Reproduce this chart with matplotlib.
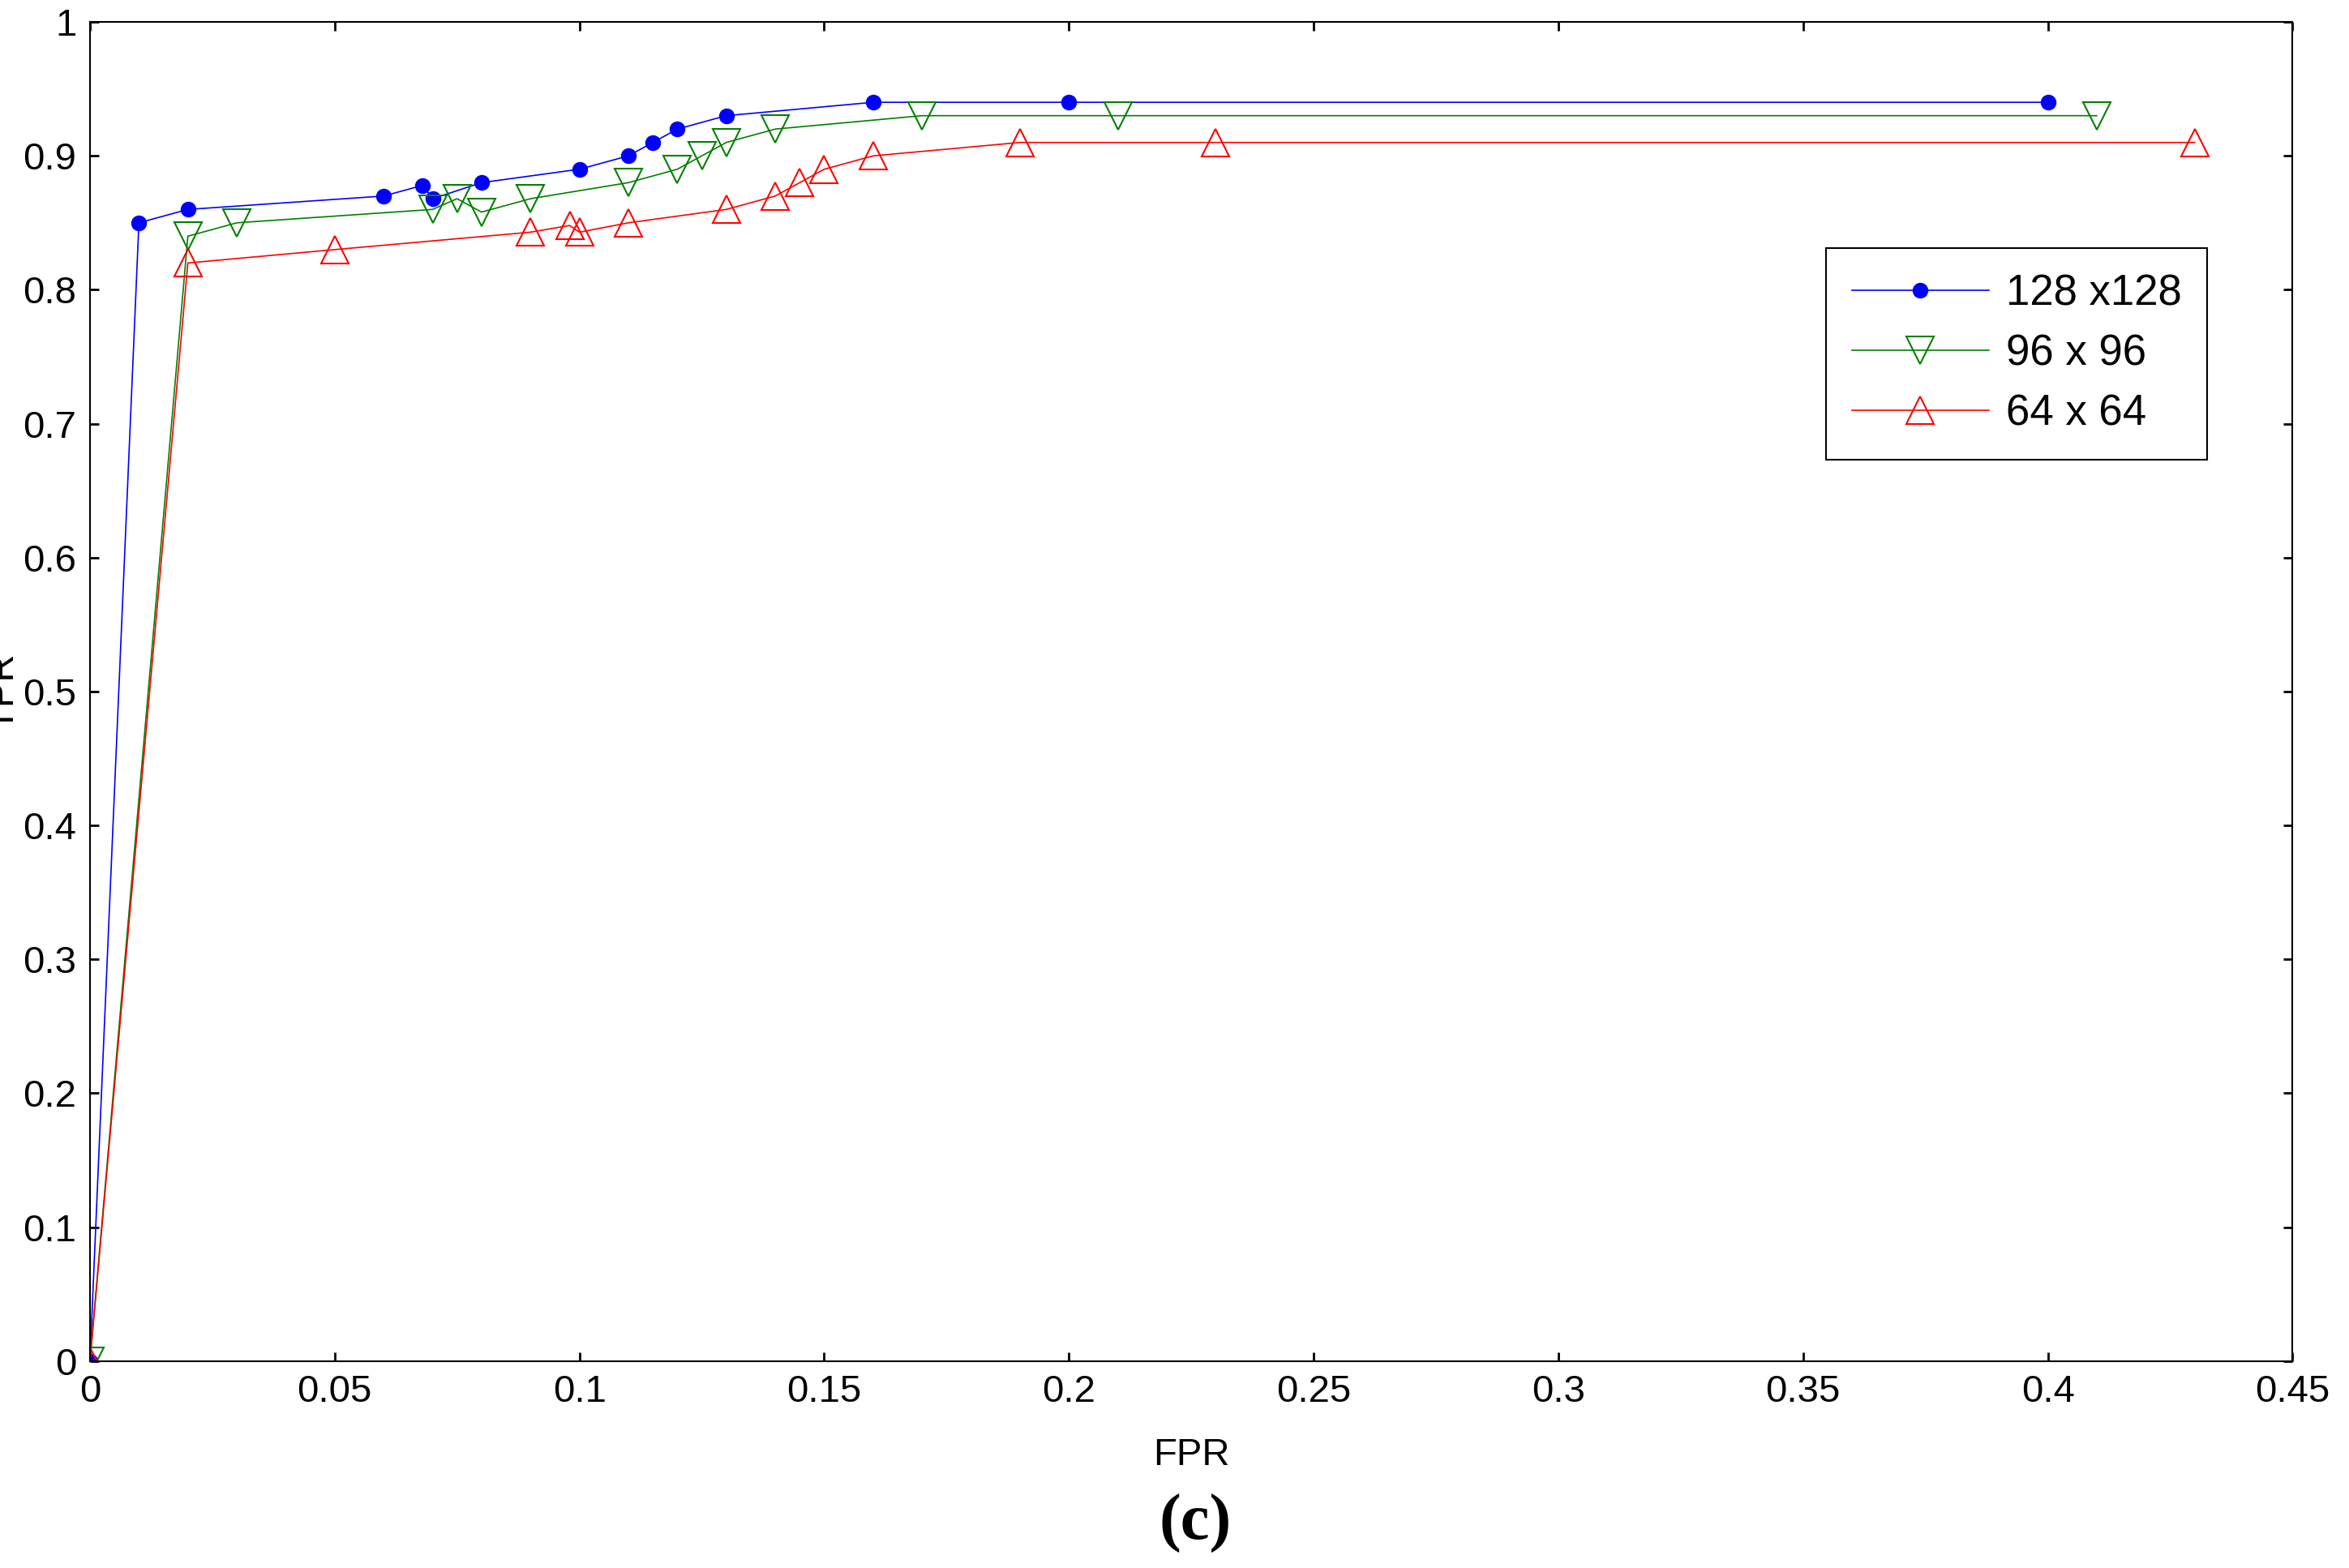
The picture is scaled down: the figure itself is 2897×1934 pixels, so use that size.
import matplotlib.pyplot as plt

fpr_128 = [0, 0.01, 0.02, 0.06, 0.068, 0.07, 0.08, 0.1, 0.11, 0.115, 0.12, 0.13, 0.16, 0.2, 0.4]
tpr_128 = [0, 0.85, 0.86, 0.87, 0.878, 0.868, 0.88, 0.89, 0.90, 0.91, 0.92, 0.93, 0.94, 0.94, 0.94]
fpr_96 = [0, 0.02, 0.03, 0.07, 0.075, 0.08, 0.09, 0.11, 0.12, 0.125, 0.13, 0.14, 0.17, 0.21, 0.41]
tpr_96 = [0, 0.84, 0.85, 0.86, 0.868, 0.858, 0.868, 0.88, 0.89, 0.90, 0.91, 0.92, 0.93, 0.93, 0.93]
fpr_64 = [0, 0.02, 0.05, 0.09, 0.098, 0.1, 0.11, 0.13, 0.14, 0.145, 0.15, 0.16, 0.19, 0.23, 0.43]
tpr_64 = [0, 0.82, 0.83, 0.843, 0.848, 0.843, 0.85, 0.86, 0.87, 0.88, 0.89, 0.90, 0.91, 0.91, 0.91]
xticks = [0, 0.05, 0.1, 0.15, 0.2, 0.25, 0.3, 0.35, 0.4, 0.45]
yticks = [0, 0.1, 0.2, 0.3, 0.4, 0.5, 0.6, 0.7, 0.8, 0.9, 1]

plt.rcParams['font.family'] = ['Liberation Sans', 'DejaVu Sans']
fig = plt.figure(figsize=(28.97, 19.34), dpi=100)
ax = fig.add_axes([0.0383, 0.132, 0.9377, 0.854])

ax.plot(fpr_128, tpr_128, color='blue', lw=1.2, marker='o', ms=13, mfc='blue', mec='blue', label='128 x128')
ax.plot(fpr_96, tpr_96, color='green', lw=1.2, marker='v', ms=24, mfc='none', mec='green', mew=1.5, label='96 x 96')
ax.plot(fpr_64, tpr_64, color='red', lw=1.2, marker='^', ms=24, mfc='none', mec='red', mew=1.5, label='64 x 64')

ax.set_xlim(0, 0.45)
ax.set_ylim(0, 1)
ax.set_xticks(xticks)
ax.set_xticklabels([f'{t:g}' for t in xticks])
ax.set_yticks(yticks)
ax.set_yticklabels([f'{t:g}' for t in yticks])
ax.tick_params(direction='in', top=True, right=True, length=8, width=2, labelsize=34, pad=12)
for s in ax.spines.values():
    s.set_linewidth(1.5)
ax.set_xlabel('FPR', fontsize=34, labelpad=24)
ax.set_ylabel('TPR', fontsize=34, labelpad=2)

leg = ax.legend(loc='upper right', bbox_to_anchor=(0.971, 0.847), fontsize=38, fancybox=False,
                edgecolor='black', framealpha=1, handlelength=3.2, borderpad=0.6, labelspacing=0.45,
                handletextpad=0.4)
leg.get_frame().set_linewidth(1.5)

fig.text(0.509, 0.018, '(c)', fontsize=58, fontweight='bold', family='Liberation Serif', ha='center')
fig.savefig('out.png', dpi=100)
